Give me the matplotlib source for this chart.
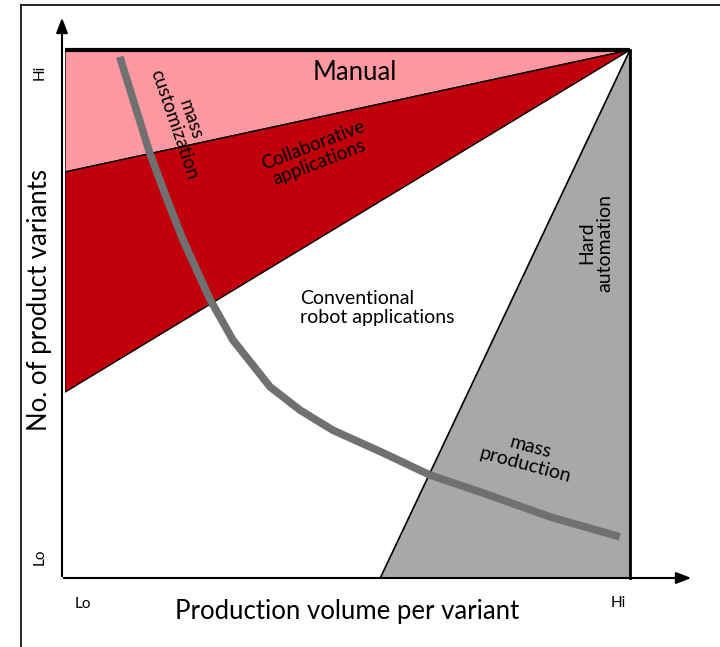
import matplotlib
matplotlib.use("Agg")
import matplotlib.pyplot as plt
from matplotlib.lines import Line2D
import numpy as np

plt.rcParams['font.family'] = ['Lato', 'DejaVu Sans']

# region boundaries (0 = Lo, 1 = Hi)
manual_edge_left = 0.769      # variants at Lo volume where manual meets collaborative
collab_edge_left = 0.352      # variants at Lo volume where collaborative meets conventional
hard_auto_start = 0.558       # volume where hard automation starts at Lo variants
apex = (1.0, 1.0)

# mass customization -> mass production curve
curve_x = [0.097, 0.150, 0.181, 0.209, 0.257, 0.297, 0.363, 0.416, 0.474,
           0.563, 0.646, 0.740, 0.858, 0.982]
curve_y = [0.987, 0.805, 0.716, 0.640, 0.527, 0.451, 0.362, 0.318, 0.280,
           0.237, 0.195, 0.161, 0.116, 0.078]

tick_labels = ["Lo", "Hi"]

pink = '#FF98A0'
red = '#C0000B'
grey = '#A8A8A8'
curve_col = '#707070'

fig = plt.figure(figsize=(7.2, 6.47), dpi=100)
W, H = 720, 647
x0, x1, y0, y1 = 65, 630, 578, 50
ax = fig.add_axes([x0 / W, (H - y0) / H, (x1 - x0) / W, (y0 - y1) / H])
ax.set_xlim(0, 1)
ax.set_ylim(0, 1)
ax.axis('off')

def px(x, y):
    return ((x - x0) / (x1 - x0), (y0 - y) / (y0 - y1))

# regions
ax.fill([0, 1, 0], [1, 1, manual_edge_left], facecolor=pink, edgecolor='black', lw=1)
ax.fill([0, apex[0], 0], [manual_edge_left, apex[1], collab_edge_left],
        facecolor=red, edgecolor='black', lw=1)
ax.fill([hard_auto_start, apex[0], 1], [0, apex[1], 0], facecolor=grey, edgecolor='black', lw=1.2)
ax.plot([0, 1], [1, 1], color='black', lw=3, solid_capstyle='butt', clip_on=False)
ax.plot([1, 1], [0, 1], color='black', lw=2, clip_on=False)

# curve
ax.plot(curve_x, curve_y, color=curve_col, lw=5.5, solid_capstyle='butt', clip_on=False)

# axes arrows
ax.annotate('', xy=px(62, 15), xytext=px(62, 579), annotation_clip=False,
            arrowprops=dict(arrowstyle='-|>,head_length=0.9,head_width=0.35', color='black', lw=1.5))
ax.annotate('', xy=px(694, 578), xytext=px(61, 578), annotation_clip=False,
            arrowprops=dict(arrowstyle='-|>,head_length=0.9,head_width=0.35', color='black', lw=1.5))

# tick labels
ax.text(*px(40, 72), tick_labels[1], rotation=90, ha='center', va='center', fontsize=11)
ax.text(*px(40, 557), tick_labels[0], rotation=90, ha='center', va='center', fontsize=11)
ax.text(*px(83, 604), tick_labels[0], ha='center', va='center', fontsize=11)
ax.text(*px(618, 603), tick_labels[1], ha='center', va='center', fontsize=11)

# axis labels
ax.text(*px(347, 611), 'Production volume per variant', ha='center', va='center', fontsize=18.5)
ax.text(*px(40, 300), 'No. of product variants', rotation=90, ha='center', va='center', fontsize=18.5)

# region labels
ax.text(*px(355, 72), 'Manual', ha='center', va='center', fontsize=18.5)
ax.text(*px(182, 122), 'mass\ncustomization', rotation=-71, ha='center', va='center',
        fontsize=13.5, linespacing=1.0, rotation_mode='anchor')
ax.text(*px(316, 154), 'Collaborative\napplications', rotation=21, ha='center', va='center',
        fontsize=13.5, linespacing=1.05, rotation_mode='anchor')
ax.text(*px(300, 308), 'Conventional\nrobot applications', ha='left', va='center',
        fontsize=14, linespacing=1.1)
ax.text(*px(596, 243), 'Hard\nautomation', rotation=90, ha='center', va='center',
        fontsize=14, linespacing=1.1, rotation_mode='anchor')
ax.text(*px(528, 456), 'mass\nproduction', rotation=-15, ha='center', va='center',
        fontsize=14, linespacing=1.05, rotation_mode='anchor')

# frame around the figure (top and left only)
fig.add_artist(Line2D([21 / W, 21 / W], [0, 1 - 5 / H], color='black', lw=1.2))
fig.add_artist(Line2D([21 / W, 1], [1 - 5 / H, 1 - 5 / H], color='black', lw=1.2))

fig.savefig('out.png', dpi=100)
